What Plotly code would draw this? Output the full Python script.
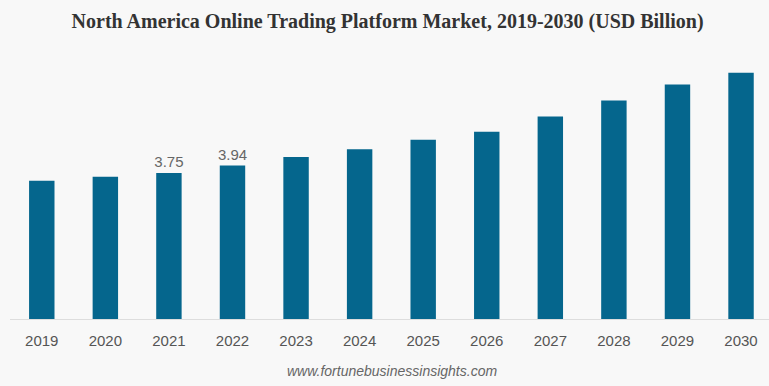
import plotly.graph_objects as go

years = ["2019", "2020", "2021", "2022", "2023", "2024", "2025", "2026", "2027", "2028", "2029", "2030"]
values = [3.55, 3.65, 3.75, 3.94, 4.16, 4.36, 4.60, 4.81, 5.20, 5.61, 6.02, 6.32]
labels = ["", "", "3.75", "3.94", "", "", "", "", "", "", "", ""]

fig = go.Figure(go.Bar(
    x=years, y=values, text=labels, textposition="outside", constraintext="none",
    textfont=dict(family="Liberation Sans, Arial", size=15, color="#666666"),
    marker=dict(color="#05668D", line=dict(width=0)),
    width=0.40, cliponaxis=False, hoverinfo="skip",
))

fig.update_layout(
    width=769, height=386,
    paper_bgcolor="#f8f8f8", plot_bgcolor="#f8f8f8",
    margin=dict(l=10, r=0, t=60, b=67, autoexpand=False),
    title=dict(text="<b>North America Online Trading Platform Market, 2019-2030 (USD Billion)</b>",
               x=0.504, xanchor="center", y=0.945, yanchor="middle",
               font=dict(family="Liberation Serif, Times New Roman", size=20, color="#333333")),
    showlegend=False,
)
fig.update_xaxes(type="category", range=[-0.5, 11.44], showline=True, linecolor="#dddddd", linewidth=1,
                 ticks="outside", ticklen=8, tickcolor="rgba(0,0,0,0)", automargin=False,
                 tickfont=dict(family="Liberation Sans Narrow, Arial Narrow, Liberation Sans", size=15, color="#555555"),
                 showgrid=False)
fig.update_yaxes(range=[0, 6.65], visible=False, showgrid=False, zeroline=False, automargin=False)

fig.add_annotation(text="<i>www.fortunebusinessinsights.com</i>", x=0.503, y=-0.2, xref="paper", yref="paper",
                   yanchor="middle", showarrow=False,
                   font=dict(family="Liberation Sans Narrow, Arial Narrow, Liberation Sans", size=14, color="#666666"))

fig.write_html("out.html", config={"displayModeBar": False},
               post_script="document.body.style.margin='0';")
